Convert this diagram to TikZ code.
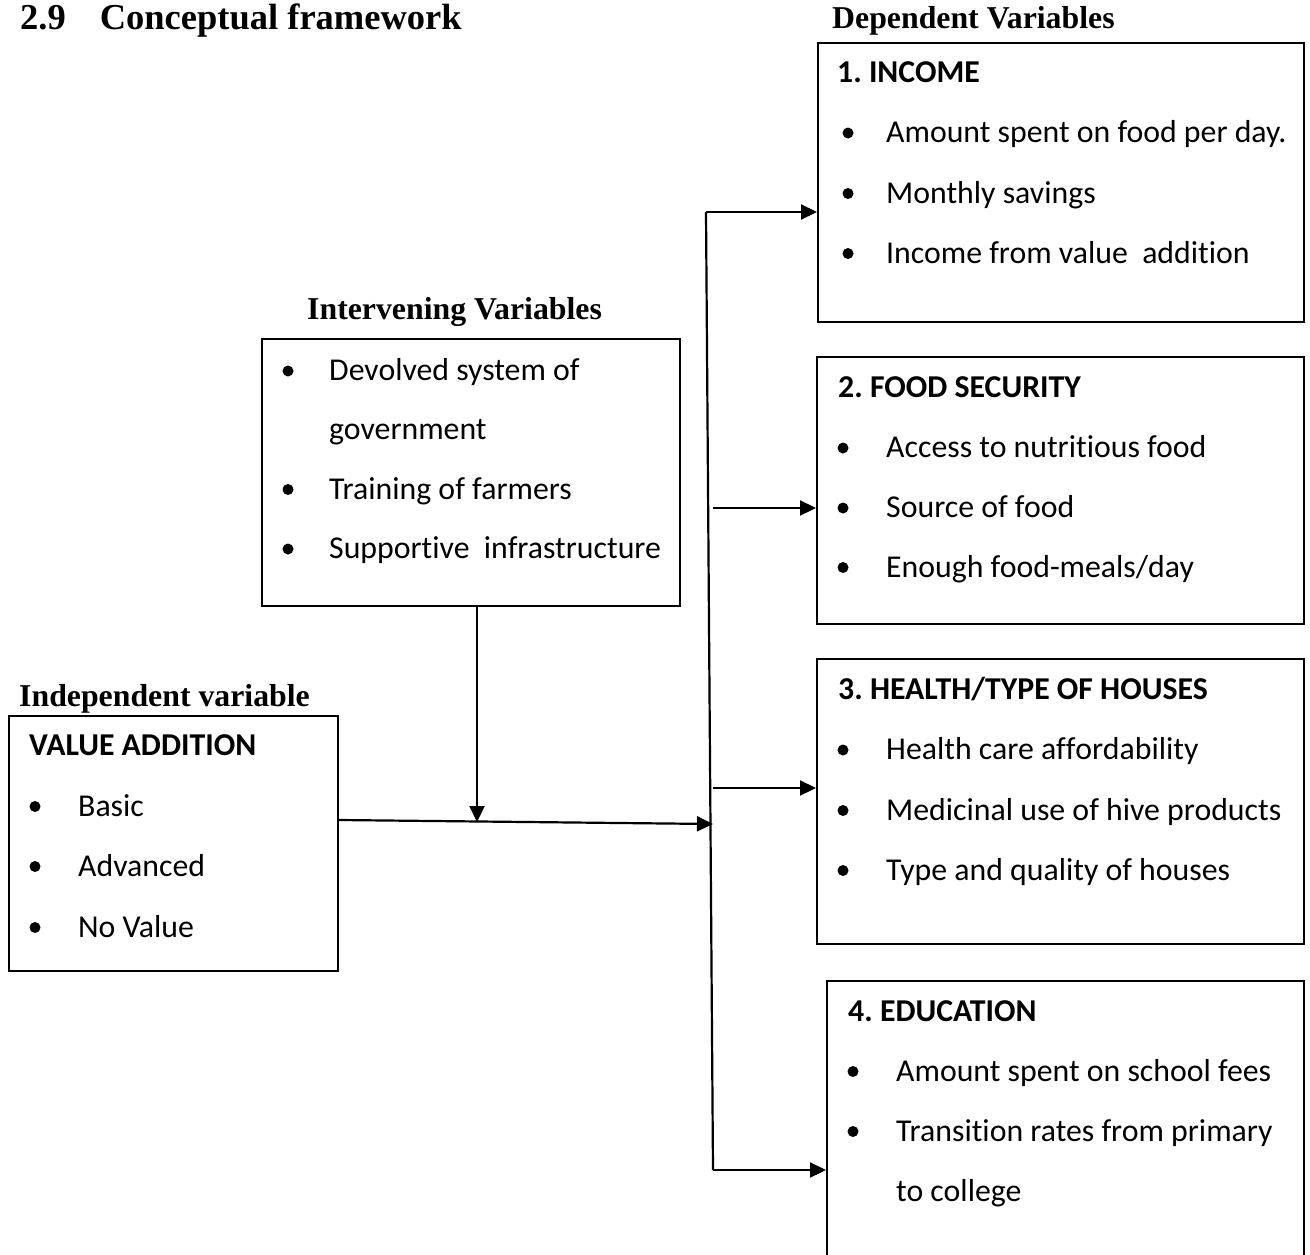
\documentclass[tikz,border=0pt]{standalone}
\usepackage{fontspec}
\setmainfont{Carlito}[Ligatures={CommonOff,ContextualOff,RequiredOff,RareOff},Contextuals=AlternateOff]
\newfontfamily\tnr{Liberation Serif}
\usetikzlibrary{arrows.meta}
\frenchspacing
\newcommand{\nl}{\kern0pt{}}
\begin{document}
\begin{tikzpicture}[x=1pt,y=-1pt,
 box/.style={draw, line width=2pt, anchor=north west, inner sep=0pt},
 txt/.style={anchor=base west, inner sep=0pt, font=\fontsize{31.8}{38}\selectfont},
 hd/.style={anchor=base west, inner sep=0pt, font=\fontsize{31.8}{38}\selectfont\bfseries},
 lab/.style={anchor=base west, inner sep=0pt, font=\fontsize{31.8}{38}\selectfont\tnr\bfseries},
 arr/.style={line width=2.2pt, -{Triangle[length=16pt,width=15pt]}},
 ln/.style={line width=2.2pt},
 bul/.style={circle, fill, draw=none, inner sep=0pt, minimum size=11pt}
]
\clip (0,0) rectangle (1310,1255);
\useasboundingbox (0,0) rectangle (1310,1255);

% titles
\node[lab, font=\fontsize{36.5}{42}\selectfont\tnr\bfseries] (title) at (20,30) {2.9\hspace{34pt}Conceptual framework};
\node[lab] (deplab) at (832,29) {Dependent Variables};
\node[lab] (intlab) at (307,319) {Intervening Variables};
\node[lab] (indlab) at (19,706) {Independent variable};

% boxes
\node[box, minimum width=486pt, minimum height=279pt] (b1) at (817,42) {};
\node[box, minimum width=487pt, minimum height=267pt] (b2) at (816,356) {};
\node[box, minimum width=487pt, minimum height=285pt] (b3) at (816,658) {};
\node[box, minimum width=477pt, minimum height=300pt] (b4) at (826,980) {};
\node[box, minimum width=418pt, minimum height=267pt] (inter) at (261,338) {};
\node[box, minimum width=329pt, minimum height=255pt] (iv) at (8,715) {};

% box 1
\node[hd] (b1h) at (837,82) {1. INCOME};
\node[bul] (b1p1) at (848,133) {};
\node[txt] (b1t1) at (886,142.5) {Amount spent on food per day.};
\node[bul] (b1p2) at (848,193.5) {};
\node[txt] (b1t2) at (886,203) {Monthly savings};
\node[bul] (b1p3) at (848,253.5) {};
\node[txt] (b1t3) at (886,263) {Income from value\ \ addition};

% box 2
\node[hd] (b2h) at (838,397) {2. FOOD SECURITY};
\node[bul] (b2p1) at (843,448) {};
\node[txt] (b2t1) at (886,457.5) {Access to nutrit\nl ious food};
\node[bul] (b2p2) at (843,508) {};
\node[txt] (b2t2) at (886,517.5) {Source of food};
\node[bul] (b2p3) at (843,567.5) {};
\node[txt] (b2t3) at (886,577) {Enough food-meals/day};

% box 3
\node[hd] (b3h) at (838,699) {3. HEALTH/TYPE OF HOUSES};
\node[bul] (b3p1) at (843,750) {};
\node[txt] (b3t1) at (886,759.5) {Health care af\nl f\nl ordability};
\node[bul] (b3p2) at (843,810.5) {};
\node[txt] (b3t2) at (886,820) {Medicinal use of hive products};
\node[bul] (b3p3) at (843,870.5) {};
\node[txt] (b3t3) at (886,880) {Type and quality of houses};

% box 4
\node[hd] (b4h) at (848,1021) {4. EDUCATION};
\node[bul] (b4p1) at (853,1071.5) {};
\node[txt] (b4t1) at (896,1081) {Amount spent on school fees};
\node[bul] (b4p2) at (853,1131.5) {};
\node[txt] (b4t2) at (896,1141) {Transit\nl ion rates from primary};
\node[txt] (b4t3) at (896,1201) {to college};

% intervening
\node[bul] (ip1) at (288,371) {};
\node[txt] (it1) at (329,380.5) {Devolved system of};
\node[txt] (it2) at (329,439.5) {government};
\node[bul] (ip2) at (288,489.5) {};
\node[txt] (it3) at (329,499) {Training of farmers};
\node[bul] (ip3) at (288,549) {};
\node[txt] (it4) at (329,558.5) {Support\nl ive\ \ infrastructure};

% independent
\node[hd] (ivh) at (29,755) {VALUE ADDITION};
\node[bul] (vp1) at (35,806.5) {};
\node[txt] (vt1) at (78,816) {Basic};
\node[bul] (vp2) at (35,866.5) {};
\node[txt] (vt2) at (78,876) {Advanced};
\node[bul] (vp3) at (35,927.5) {};
\node[txt] (vt3) at (78,937) {No Value};

% connectors
\coordinate (tTop) at (706,212);
\coordinate (tBot) at (713,1170);
\coordinate (j2) at (713,508);
\coordinate (j3) at (713,788);
\coordinate (h820) at (0,820);
\coordinate (vEnd) at (713,824);
\coordinate (mid) at (477,822);

\draw[ln] (tTop) -- (tBot);
\draw[arr] (tTop) -- (tTop -| b1.west);
\draw[arr] (j2) -- (j2 -| b2.west);
\draw[arr] (j3) -- (j3 -| b3.west);
\draw[arr] (tBot) -- (tBot -| b4.west);
\draw[arr] (iv.east |- h820) -- (vEnd);
\draw[arr] (mid |- inter.south) -- (mid);
\end{tikzpicture}
\end{document}
